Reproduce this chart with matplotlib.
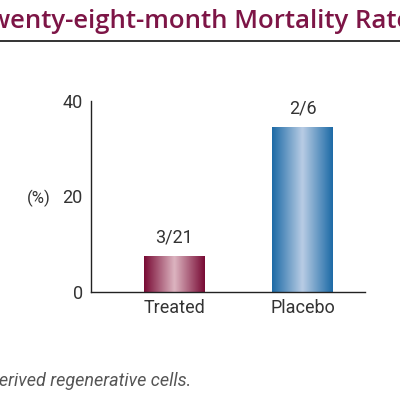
import numpy as np
import matplotlib.pyplot as plt
from matplotlib.colors import LinearSegmentedColormap

plt.rcParams['font.family'] = ['Roboto', 'DejaVu Sans']

# data
groups = ['Treated', 'Placebo']
rates = [7.6, 34.6]
counts = ['3/21', '2/6']
yticks = [0, 20, 40]

edge_cols = ['#780a34', '#1c6aa6']
mid_cols = ['#dcb4c0', '#b8cce4']

fig = plt.figure(figsize=(4, 4), dpi=100)
ax = fig.add_axes([0.2275, 0.27, 0.685, 0.478])

x = np.arange(len(groups))
bars = ax.bar(x, rates, width=0.47, color='none', edgecolor='none')

# horizontal gradient fill for each bar
grad = np.abs(np.linspace(-1, 1, 256))[None, :]
for b, ec, mc in zip(bars, edge_cols, mid_cols):
    cmap = LinearSegmentedColormap.from_list('g', [mc, ec])
    x0, y0 = b.get_x(), b.get_y()
    im = ax.imshow(grad, cmap=cmap, aspect='auto', interpolation='bicubic',
                   extent=[x0, x0 + b.get_width(), y0, y0 + b.get_height()],
                   zorder=2)
    im.set_clip_path(b)

for xi, r, c in zip(x, rates, counts):
    ax.text(xi, r + 2.0, c, ha='center', va='bottom', fontsize=13, color='#333333')

ax.set_xlim(-0.652, 1.488)
ax.set_ylim(0, 40)
ax.set_yticks(yticks)
ax.set_xticks(x)
ax.set_xticklabels(groups)
ax.tick_params(length=0, labelsize=13, colors='#333333')
ax.tick_params(axis='y', pad=6)
ax.tick_params(axis='x', pad=5)
for s in ['top', 'right']:
    ax.spines[s].set_visible(False)
for s in ['left', 'bottom']:
    ax.spines[s].set_color('#222222')
    ax.spines[s].set_linewidth(1)

fig.text(0.097, 0.505, '(%)', fontsize=12, color='#333333', ha='center', va='center')

# header strip (cropped title) and rule
fig.text(-0.062, 0.945, 'Twenty-eight-month Mortality Rates', fontsize=18.5,
         fontweight='semibold', color='#7d1546', ha='left', va='center',
         family=['Open Sans', 'DejaVu Sans'])
fig.add_artist(plt.Line2D([0, 1], [0.897, 0.897], color='#333333', lw=1.4))

# footnote (cropped)
fig.text(-0.028, 0.047, 'derived regenerative cells.', fontsize=13, style='italic',
         color='#555555', ha='left', va='center')

fig.savefig('out.png', dpi=100)
